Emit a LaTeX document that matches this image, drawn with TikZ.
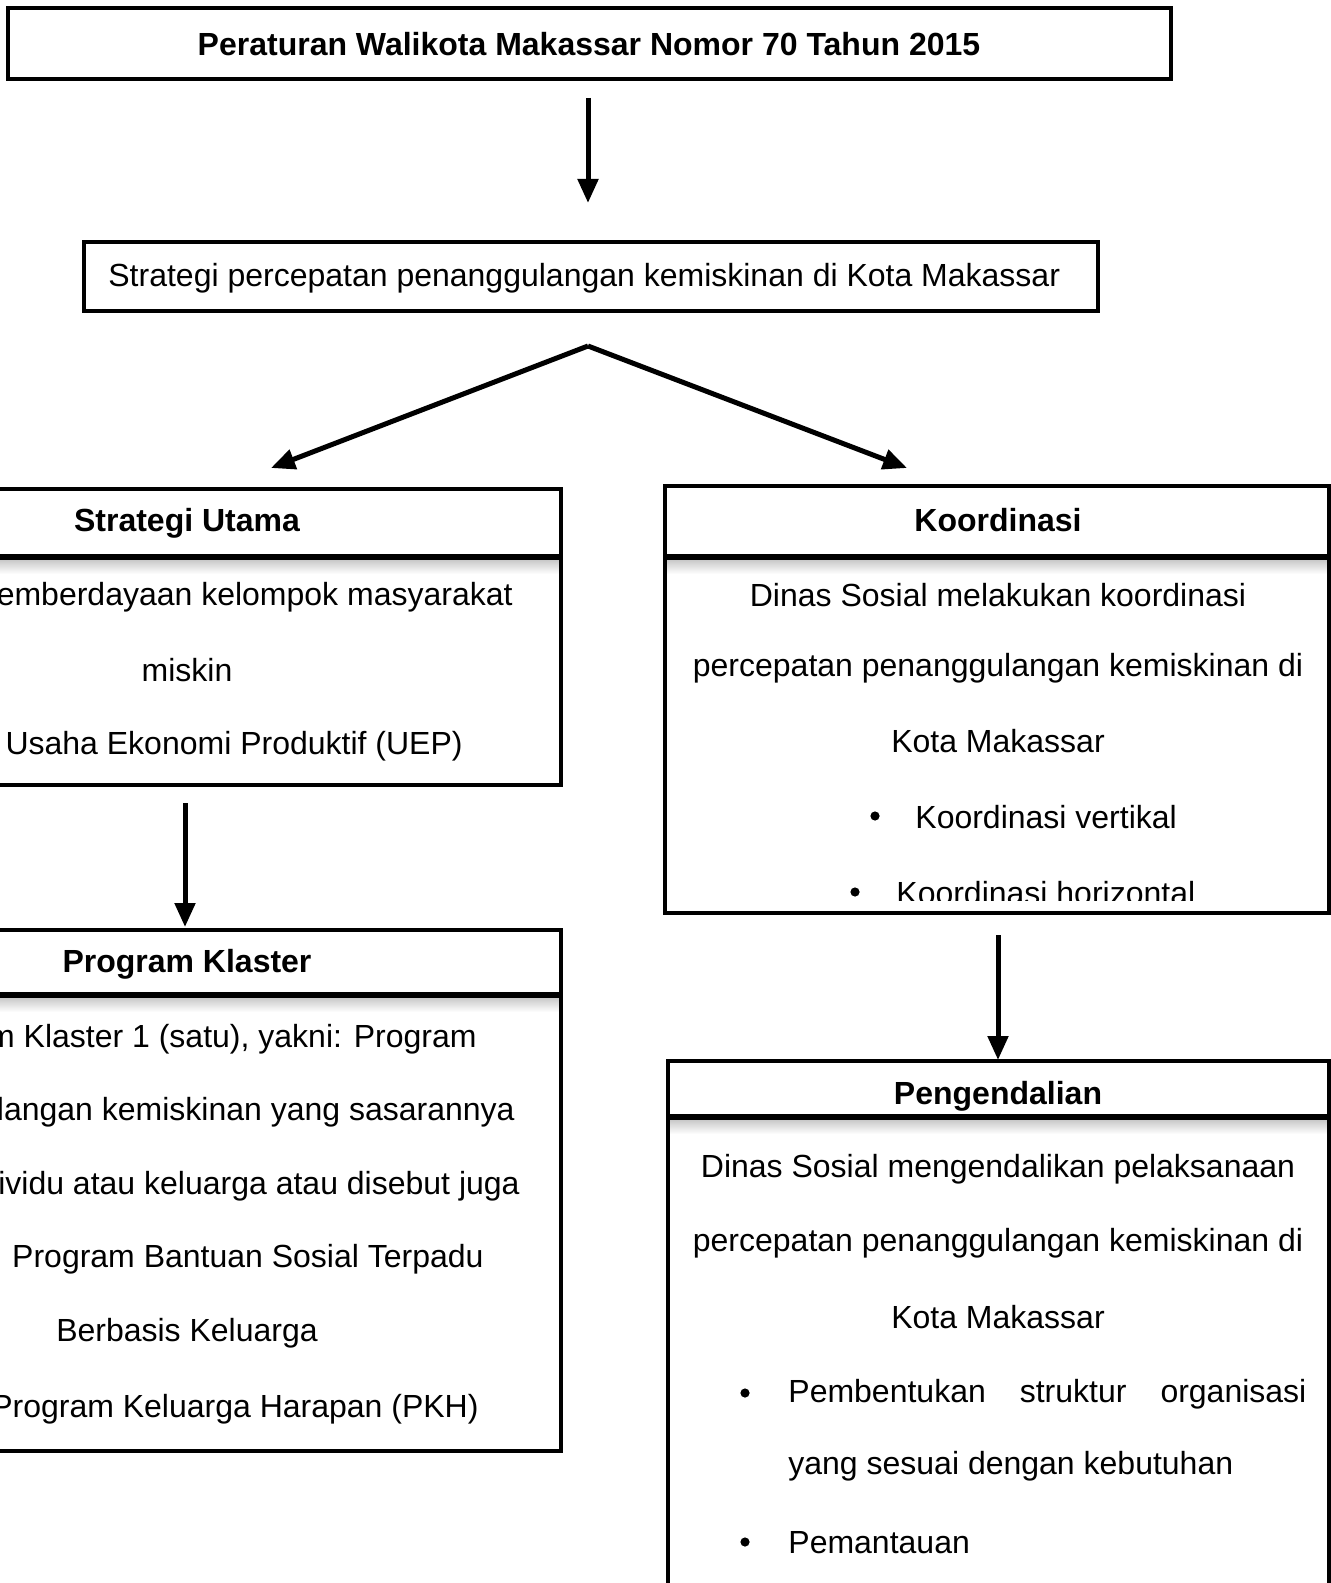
\documentclass[tikz,border=0pt]{standalone}
\usepackage{fontspec}
\setmainfont{Liberation Sans}
\usetikzlibrary{arrows.meta}

\begin{document}
\begin{tikzpicture}[x=0.5pt,y=-0.5pt,
  box/.style={line width=2.2pt},
  bar/.style={line width=3pt},
  shadow/.style={top color=gray!45,bottom color=white},
  txt/.style={inner sep=0pt,font=\fontsize{16}{19}\selectfont},
  hd/.style={inner sep=0pt,font=\fontsize{16}{19}\selectfont\bfseries},
  dot/.style={circle,fill,inner sep=0pt,minimum size=4.6pt},
  arr/.style={line width=2.5pt,-{Triangle[width=10pt,length=12pt]}}]
        \useasboundingbox (0,0) rectangle (1331,1583);

        % Peraturan
        \draw[box] (8,8) rectangle (1171,79);
        \node[hd] (perwali) at (589,44) {Peraturan Walikota Makassar Nomor 70 Tahun 2015};

        \coordinate (A) at (588,98);
        \coordinate (B) at (588,203);
        \draw[arr] (A) -- (B);

        % Strategi percepatan
        \draw[box] (84,242) rectangle (1098,311);
        \node[txt,anchor=west] (strategi) at (108,278) {Strategi percepatan penanggulangan kemiskinan di Kota Makassar};

        \coordinate (C) at (588,346);
        \coordinate (D) at (271,468);
        \coordinate (E) at (907,468);
        \draw[arr] (C) -- (D);
        \draw[arr] (C) -- (E);

        % Strategi Utama
        \shade[shadow] (-190,559) rectangle (561,574);
        \draw[box] (-190,489) rectangle (561,785);
        \draw[bar] (-190,557) -- (561,557);
        \node[hd] (utama) at (187,523) {Strategi Utama};
        \node[txt,anchor=east] (utama1) at (513,597) {emberdayaan kelompok masyarakat};
        \node[txt] (utama2) at (187,670) {miskin};
        \node[txt,anchor=east] (utama3) at (463,746) {Usaha Ekonomi Produktif (UEP)};

        \coordinate (F) at (185,803);
        \coordinate (G) at (185,927);
        \draw[arr] (F) -- (G);

        % Program Klaster
        \shade[shadow] (-190,997) rectangle (561,1012);
        \draw[box] (-190,930) rectangle (561,1451);
        \draw[bar] (-190,995) -- (561,995);
        \node[hd] (klaster) at (187,964) {Program Klaster};
        \node[txt,anchor=east] (klaster1) at (477,1039) {m Klaster 1 (satu), yakni: Program};
        \node[txt,anchor=east] (klaster2) at (515,1112) {langan kemiskinan yang sasarannya};
        \node[txt,anchor=east] (klaster3) at (520,1186) {ividu atau keluarga atau disebut juga};
        \node[txt,anchor=east] (klaster4) at (484,1259) {Program Bantuan Sosial Terpadu};
        \node[txt] (klaster5) at (187,1333) {Berbasis Keluarga};
        \node[txt,anchor=east] (klaster6) at (479,1409) {Program Keluarga Harapan (PKH)};

        % Koordinasi
        \shade[shadow] (665,559) rectangle (1329,574);
        \draw[box] (665,486) rectangle (1329,913);
        \draw[bar] (665,557) -- (1329,557);
        \node[hd] (koord) at (998,520) {Koordinasi};
        \node[txt] (koord1) at (998,595) {Dinas Sosial melakukan koordinasi};
        \node[txt] (koord2) at (998,668) {percepatan penanggulangan kemiskinan di};
        \node[txt] (koord3) at (998,741) {Kota Makassar};
        \node[dot] (b1) at (875,816) {};
        \node[txt,anchor=west] (koord4) at (915,817) {Koordinasi vertikal};
        \begin{scope}
            \clip (600,850) rectangle (1331,900);
            \node[dot] (b2) at (855,892) {};
            \node[txt,anchor=west] (koord5) at (896,893) {Koordinasi horizontal};
        \end{scope}

        \coordinate (H) at (998,935);
        \coordinate (I) at (998,1060);
        \draw[arr] (H) -- (I);

        % Pengendalian
        \shade[shadow] (668,1119) rectangle (1329,1134);
        \draw[box] (668,1061) rectangle (1329,1620);
        \draw[bar] (668,1117) -- (1329,1117);
        \node[hd] (kendali) at (998,1096) {Pengendalian};
        \node[txt] (kendali1) at (998,1169) {Dinas Sosial mengendalikan pelaksanaan};
        \node[txt] (kendali2) at (998,1243) {percepatan penanggulangan kemiskinan di};
        \node[txt] (kendali3) at (998,1317) {Kota Makassar};
        \node[dot] (b3) at (745,1393) {};
        \node[txt,anchor=west] (kendali4) at (788,1394) {\hbox to 259pt{Pembentukan\hfill struktur\hfill organisasi}};
        \node[txt,anchor=west] (kendali5) at (788,1466) {yang sesuai dengan kebutuhan};
        \node[dot] (b4) at (745,1542) {};
        \node[txt,anchor=west] (kendali6) at (788,1543) {Pemantauan};
    \end{tikzpicture}
\end{document}
